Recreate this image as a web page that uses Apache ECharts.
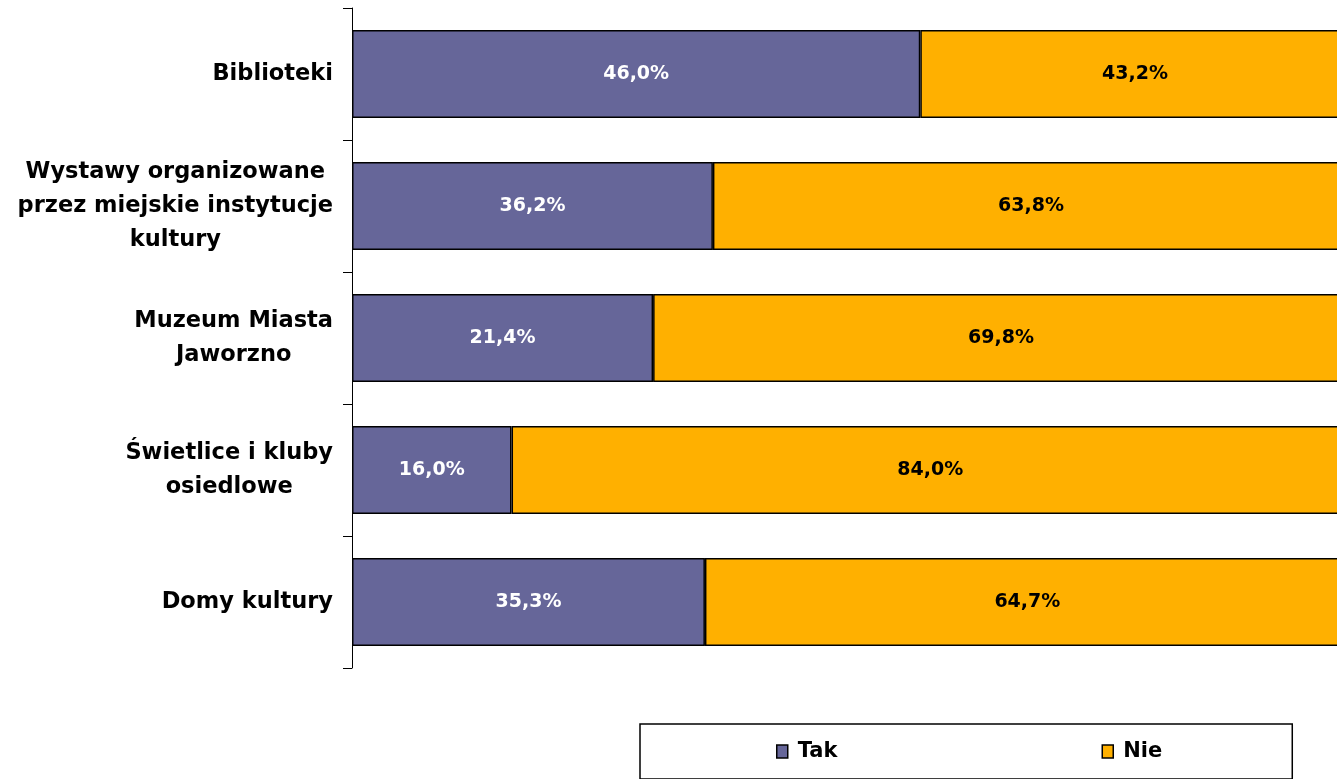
<!DOCTYPE html>
<html><head><meta charset="utf-8">
<script src="https://cdn.jsdelivr.net/npm/echarts@6/dist/echarts.min.js"></script>
<style>html,body{margin:0;padding:0;background:#fff}#c{width:1337px;height:779px}</style>
</head><body><div id="c"></div>
<script>
const categories = ['Biblioteki', 'Wystawy organizowane\nprzez miejskie instytucje\nkultury', 'Muzeum Miasta\nJaworzno', 'Świetlice i kluby\nosiedlowe', 'Domy kultury'];
// bar lengths as drawn in the picture
const takValues = [57.0, 36.2, 30.2, 16.0, 35.4];
const nieValues = [43.2, 63.8, 69.8, 84.0, 64.7];
// value labels as printed in the picture
const takLabels = ['46,0%', '36,2%', '21,4%', '16,0%', '35,3%'];
const nieLabels = ['43,2%', '63,8%', '69,8%', '84,0%', '64,7%'];
const seriesNames = ['Tak', 'Nie'];

const FONT = '"DejaVu Sans", "Liberation Sans", Arial, sans-serif';
const chart = echarts.init(document.getElementById('c'), null, {renderer: 'canvas'});
chart.setOption({
  animation: false,
  textStyle: {fontFamily: FONT},
  grid: {left: 352, top: 8, height: 660, width: 997, containLabel: false, outerBoundsMode: 'none'},
  xAxis: {type: 'value', min: 0, max: 100, show: false},
  yAxis: {
    type: 'category', data: categories, inverse: true,
    axisLine: {show: true, lineStyle: {color: '#000', width: 1}},
    axisTick: {show: true, length: 9, lineStyle: {color: '#000', width: 1}},
    axisLabel: {
      margin: 19, align: 'right',
      formatter: v => v.split('\n').map(l => '{c|' + l + '}').join('\n'),
      rich: {c: {align: 'center', fontSize: 22.5, fontWeight: 'bold', color: '#000', fontFamily: FONT, lineHeight: 34}}
    }
  },
  legend: {
    data: seriesNames, left: 640, top: 724, orient: 'horizontal',
    padding: [17, 130, 17, 136], itemGap: 264,
    borderColor: '#000', borderWidth: 1.5,
    itemWidth: 11, itemHeight: 13, icon: 'rect',
    itemStyle: {borderColor: '#000', borderWidth: 1.5},
    textStyle: {fontSize: 21, fontWeight: 'bold', color: '#000', fontFamily: FONT, padding: [0, 0, 0, 5]}
  },
  series: [
    {name: 'Tak', type: 'bar', stack: 'a', data: takValues, barWidth: 88,
     itemStyle: {color: '#666699', borderColor: '#000', borderWidth: 1.5},
     label: {show: true, position: 'inside', color: '#fff', fontSize: 19, fontWeight: 'bold', fontFamily: FONT,
             formatter: p => takLabels[p.dataIndex]}},
    {name: 'Nie', type: 'bar', stack: 'a', data: nieValues, barWidth: 88,
     itemStyle: {color: '#FFB000', borderColor: '#000', borderWidth: 1.5},
     label: {show: true, position: 'inside', color: '#000', fontSize: 19, fontWeight: 'bold', fontFamily: FONT,
             formatter: p => nieLabels[p.dataIndex]}}
  ]
});
</script></body></html>
